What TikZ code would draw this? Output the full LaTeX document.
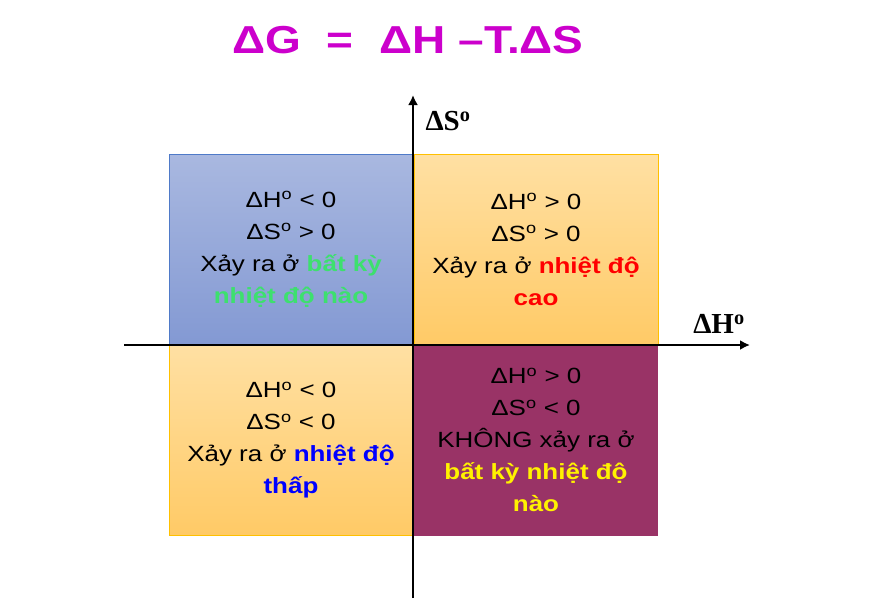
\documentclass[tikz,border=0pt]{standalone}
\usepackage{fontspec}
\setmainfont{Liberation Sans}
\newfontfamily\slidefont[FakeStretch=1.18]{Liberation Sans}
\newfontfamily\axisfont{Liberation Serif}
\usetikzlibrary{arrows.meta}
\definecolor{titlemagenta}{HTML}{CC00CC}
\definecolor{bluetop}{HTML}{A9B8E0}
\definecolor{bluebot}{HTML}{8399D3}
\definecolor{blueedge}{HTML}{4F7AC8}
\definecolor{orangetop}{HTML}{FFE0A3}
\definecolor{orangebot}{HTML}{FFCA66}
\definecolor{orangeedge}{HTML}{FFC000}
\definecolor{plum}{HTML}{993366}
\definecolor{brightgreen}{HTML}{3DE06E}
\tikzset{
	quadrant/.style={minimum width=244pt, minimum height=191pt, inner sep=0pt, align=center, font=\slidefont\fontsize{22}{32}\selectfont},
	coolbox/.style={quadrant, top color=bluetop, bottom color=bluebot, draw=blueedge, line width=0.8pt},
	warmbox/.style={quadrant, top color=orangetop, bottom color=orangebot, draw=orangeedge, line width=0.8pt},
	axis/.style={line width=2.4pt, -{Latex[length=10pt,width=10pt]}},
	axislabel/.style={font=\axisfont\bfseries\fontsize{29}{29}\selectfont}
}
\newcommand{\dH}{ΔH\textsuperscript{o}}
\newcommand{\dS}{ΔS\textsuperscript{o}}

\begin{document}
\begin{tikzpicture}[x=1pt,y=-1pt]
	\useasboundingbox[fill=white] (0,0) rectangle (883,608);
	% title
	\node[font=\slidefont\bfseries\fontsize{39}{39}\selectfont, text=titlemagenta] (title) at (408,40) {ΔG \ = \ ΔH –T.ΔS};
	% the four quadrants
	\node[coolbox] (q2) at (291,249.5) {\dH{} < 0\\ \dS{} > 0\\ Xảy ra ở \textcolor{brightgreen}{\bfseries bất kỳ}\\ \textcolor{brightgreen}{\bfseries nhiệt độ nào}};
	\node[warmbox] (q1) at (536,249.5) {\dH{} > 0\\ \dS{} > 0\\ Xảy ra ở \textcolor{red}{\bfseries nhiệt độ}\\ \textcolor{red}{\bfseries cao}};
	\node[warmbox] (q3) at (291,440) {\dH{} < 0\\ \dS{} < 0\\ Xảy ra ở \textcolor{blue}{\bfseries nhiệt độ}\\ \textcolor{blue}{\bfseries thấp}};
	\node[quadrant, fill=plum] (q4) at (536,440) {\dH{} > 0\\ \dS{} < 0\\ KHÔNG xảy ra ở\\ \textcolor{yellow}{\bfseries bất kỳ nhiệt độ}\\ \textcolor{yellow}{\bfseries nào}};
	% axes
	\coordinate (hstart) at (124,345);
	\coordinate (hend) at (750,345);
	\coordinate (vstart) at (413,598);
	\coordinate (vend) at (413,95);
	\draw[axis] (hstart) -- (hend);
	\draw[axis] (vstart) -- (vend);
	\node[axislabel] (hlabel) at (719,324) {ΔH\textsuperscript{o}};
	\node[axislabel] (slabel) at (448,121) {ΔS\textsuperscript{o}};
\end{tikzpicture}
\end{document}
